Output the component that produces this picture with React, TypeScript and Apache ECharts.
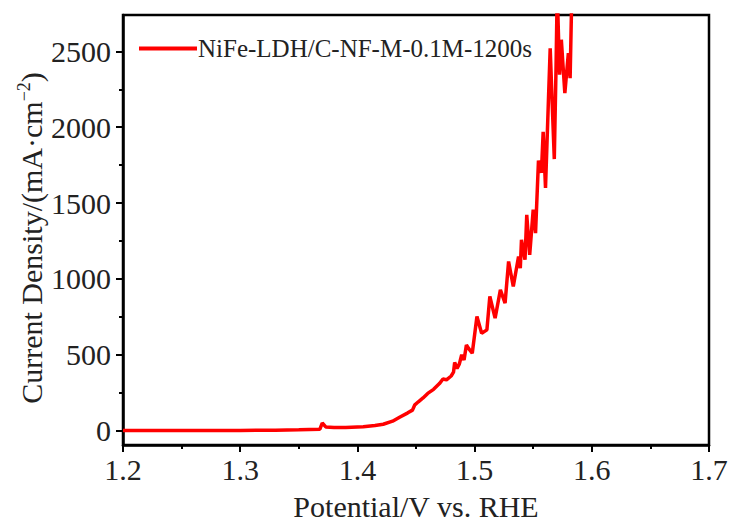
import React, { useEffect, useRef } from "react";
import * as echarts from "echarts";

const seriesName = "NiFe-LDH/C-NF-M-0.1M-1200s";
const xTitle = "Potential/V vs. RHE";
const yTitleMain = "Current Density/(mA·cm";
const yTitleSup = "−2";

const potential = [
  1.2, 1.25, 1.3, 1.33, 1.35, 1.368, 1.37, 1.373, 1.38, 1.39, 1.405, 1.415, 1.422, 1.43,
  1.436, 1.443, 1.447, 1.449, 1.452, 1.456, 1.46, 1.465, 1.47, 1.473, 1.476, 1.48, 1.482,
  1.483, 1.485, 1.487, 1.489, 1.491, 1.493, 1.495, 1.498, 1.502, 1.506, 1.5105, 1.513,
  1.5175, 1.522, 1.526, 1.529, 1.533, 1.5375, 1.539, 1.54, 1.543, 1.5445, 1.547, 1.55,
  1.552, 1.5545, 1.557, 1.5585, 1.5605, 1.563, 1.5645, 1.566, 1.568, 1.5695, 1.5705,
  1.5725, 1.574, 1.5755, 1.577, 1.58, 1.5815, 1.583, 1.585,
];
const current = [
  0, 0, 1, 3, 6, 9, 50, 24, 20, 20, 25, 33, 42, 62,
  88, 117, 135, 170, 190, 215, 245, 272, 310, 340, 335, 360, 385,
  450, 410, 440, 500, 465, 565, 540, 510, 752, 642, 664, 884,
  741, 928, 840, 1115, 950, 1148, 1071, 1258, 1126, 1423, 1159, 1456,
  1302, 1780, 1700, 1970, 1600, 2180, 2520, 2200, 1790, 2400, 2900,
  2346, 2577, 2400, 2225, 2489, 2324, 2900, 3200,
];

const yMajorTicks = [0, 500, 1000, 1500, 2000, 2500];
const yMinorTicks = [250, 750, 1250, 1750, 2250];
const xMin = 1.2;
const xMax = 1.7;
const yMin = -95;
const yMax = 2740;

const FONT = "Liberation Serif, Times New Roman, serif";

export default function App() {
  const ref = useRef<HTMLDivElement>(null);
  useEffect(() => {
    if (!ref.current) return;
    const chart = echarts.init(ref.current, null, { renderer: "svg" });
    const data = potential.map((p, i) => [p, current[i]]);
    chart.setOption({
      animation: false,
      backgroundColor: "#fff",
      grid: {
        left: 123,
        right: 22,
        top: 15,
        bottom: 81,
        show: true,
        borderColor: "#000",
        borderWidth: 2.5,
      },
      legend: {
        left: 134,
        top: 31,
        itemWidth: 58,
        itemHeight: 4,
        itemGap: 10,
        textStyle: { fontFamily: FONT, fontSize: 25, color: "#222", padding: [0, 0, 0, -4] },
        data: [{ name: seriesName, icon: "rect", itemStyle: { color: "#ff0000" } }],
      },
      graphic: [
        {
          type: "text",
          x: 31,
          y: 238,
          rotation: Math.PI / 2,
          style: {
            text: `{a|${yTitleMain}}{s|${yTitleSup}}{a|)}`,
            align: "center",
            verticalAlign: "middle",
            rich: {
              a: { fontFamily: FONT, fontSize: 30, fill: "#222", lineHeight: 32 },
              s: { fontFamily: FONT, fontSize: 18, fill: "#222", verticalAlign: "top", lineHeight: 32 },
            },
          },
        },
      ],
      xAxis: {
        type: "value",
        min: xMin,
        max: xMax,
        interval: 0.1,
        name: xTitle,
        nameLocation: "middle",
        nameGap: 46,
        nameTextStyle: { fontFamily: FONT, fontSize: 30, color: "#222" },
        axisLine: { show: true, onZero: false, lineStyle: { color: "#000", width: 2.5 } },
        axisTick: { show: true, inside: false, length: 7, lineStyle: { color: "#000", width: 2 } },
        minorTick: { show: true, splitNumber: 2, length: 4, lineStyle: { color: "#000", width: 2 } },
        splitLine: { show: false },
        axisLabel: {
          fontFamily: FONT,
          fontSize: 30,
          color: "#222",
          margin: 9,
          formatter: (v: number) => v.toFixed(1),
        },
      },
      yAxis: [
        {
          type: "value",
          min: yMin,
          max: yMax,
          axisLine: { show: true, onZero: false, lineStyle: { color: "#000", width: 2.5 } },
          axisTick: {
            show: true,
            inside: false,
            length: 7,
            customValues: yMajorTicks,
            lineStyle: { color: "#000", width: 2 },
          },
          splitLine: { show: false },
          axisLabel: {
            fontFamily: FONT,
            fontSize: 30,
            color: "#222",
            margin: 12,
            customValues: yMajorTicks,
            formatter: (v: number) => String(Math.round(v)),
          },
        },
        {
          type: "value",
          min: yMin,
          max: yMax,
          position: "left",
          axisLine: { show: false },
          axisTick: {
            show: true,
            inside: false,
            length: 4,
            customValues: yMinorTicks,
            lineStyle: { color: "#000", width: 2 },
          },
          axisLabel: { show: false },
          splitLine: { show: false },
        },
      ],
      series: [
        {
          name: seriesName,
          type: "line",
          data,
          showSymbol: false,
          symbol: "none",
          clip: true,
          lineStyle: { color: "#ff0000", width: 3.5 },
          itemStyle: { color: "#ff0000" },
        },
      ],
    });
    return () => chart.dispose();
  }, []);
  return <div ref={ref} style={{ width: 731, height: 526, position: "absolute", left: 0, top: 0 }} />;
}
